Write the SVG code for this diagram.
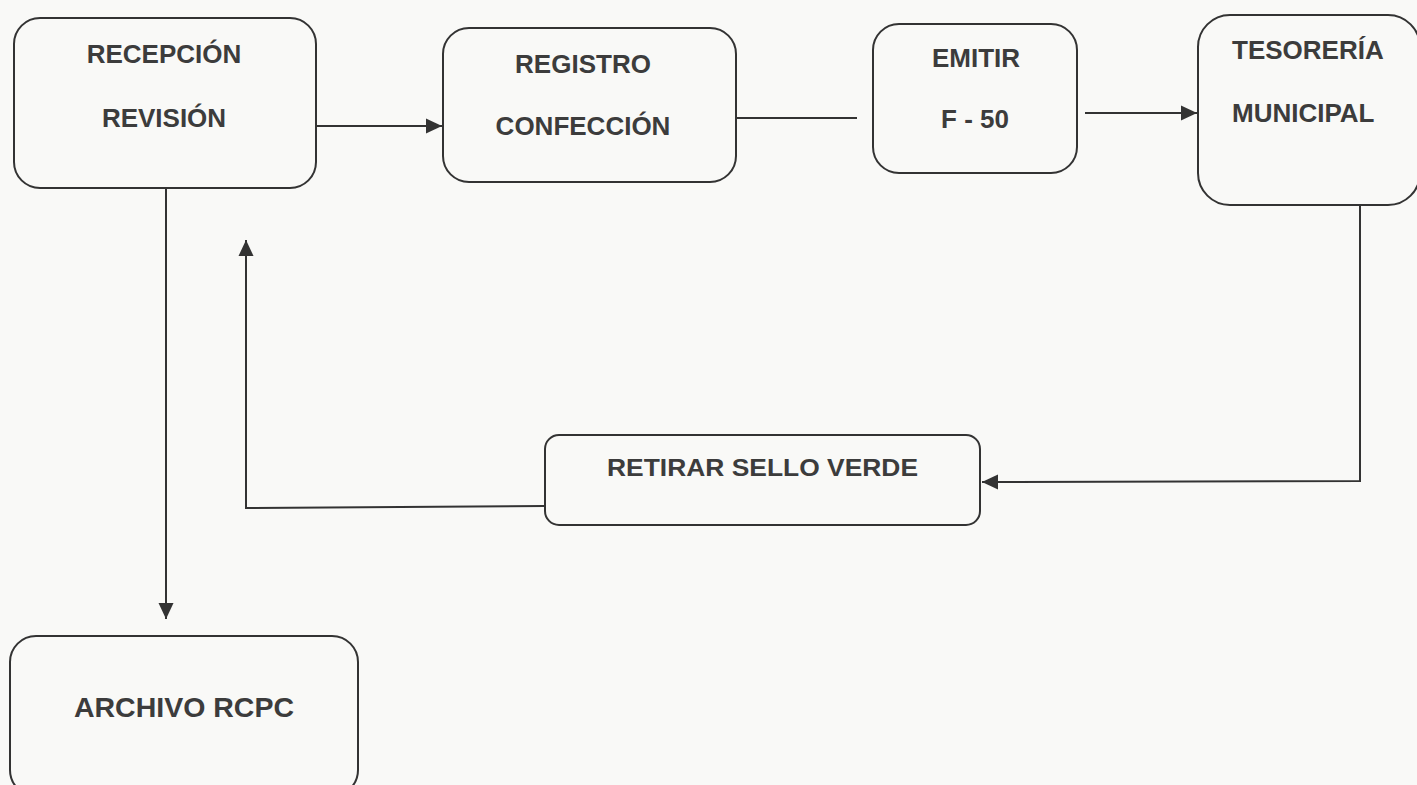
<svg xmlns="http://www.w3.org/2000/svg" width="1417" height="785" viewBox="0 0 1417 785">
<defs>
<style>
.box{fill:none;stroke:#333;stroke-width:2}
.t{font-family:"Liberation Sans",Arial,sans-serif;font-weight:bold;font-size:26px;fill:#3c3c3c;text-anchor:middle}
.c{fill:none;stroke:#333;stroke-width:2}
</style>
<marker id="ah" viewBox="0 0 16 16" refX="16" refY="8" markerWidth="16" markerHeight="16" orient="auto" markerUnits="userSpaceOnUse">
<path d="M0,0.5 L16,8 L0,15.5 z" fill="#333"/>
</marker>
</defs>
<rect width="1417" height="785" fill="#f9f9f7"/>
<g id="n1"><rect class="box" x="14" y="18" width="302" height="170" rx="26"/><text class="t" x="164" y="63">RECEPCIÓN</text><text class="t" x="164" y="127">REVISIÓN</text></g>
<g id="n2"><rect class="box" x="443" y="28" width="293" height="154" rx="26"/><text class="t" x="583" y="73">REGISTRO</text><text class="t" x="583" y="135">CONFECCIÓN</text></g>
<g id="n3"><rect class="box" x="873" y="24" width="204" height="149" rx="26"/><text class="t" x="976" y="67">EMITIR</text><text class="t" x="975" y="128">F - 50</text></g>
<g id="n4"><rect class="box" x="1198" y="15" width="222" height="190" rx="32"/><text class="t" x="1232" y="59" style="text-anchor:start">TESORERÍA</text><text class="t" x="1232" y="122" style="text-anchor:start">MUNICIPAL</text></g>
<g id="n5"><rect class="box" x="545" y="435" width="435" height="90" rx="14"/><text class="t" x="607" y="476" style="text-anchor:start;font-size:23px" textLength="311" lengthAdjust="spacingAndGlyphs">RETIRAR SELLO VERDE</text></g>
<g id="n6"><rect class="box" x="10" y="636" width="348" height="160" rx="26"/><text class="t" x="184" y="717" style="font-size:28.5px">ARCHIVO RCPC</text></g>
<g id="connectors">
<path class="c" d="M316,126 L442,126" marker-end="url(#ah)"/>
<path class="c" d="M736,118 L857,118"/>
<path class="c" d="M1085,113 L1197,113" marker-end="url(#ah)"/>
<path class="c" d="M1360,205 L1360,481 L982,482" marker-end="url(#ah)"/>
<path class="c" d="M545,506 L246,508 L246,240" marker-end="url(#ah)"/>
<path class="c" d="M166,188 L166,619" marker-end="url(#ah)"/>
</g>
</svg>
